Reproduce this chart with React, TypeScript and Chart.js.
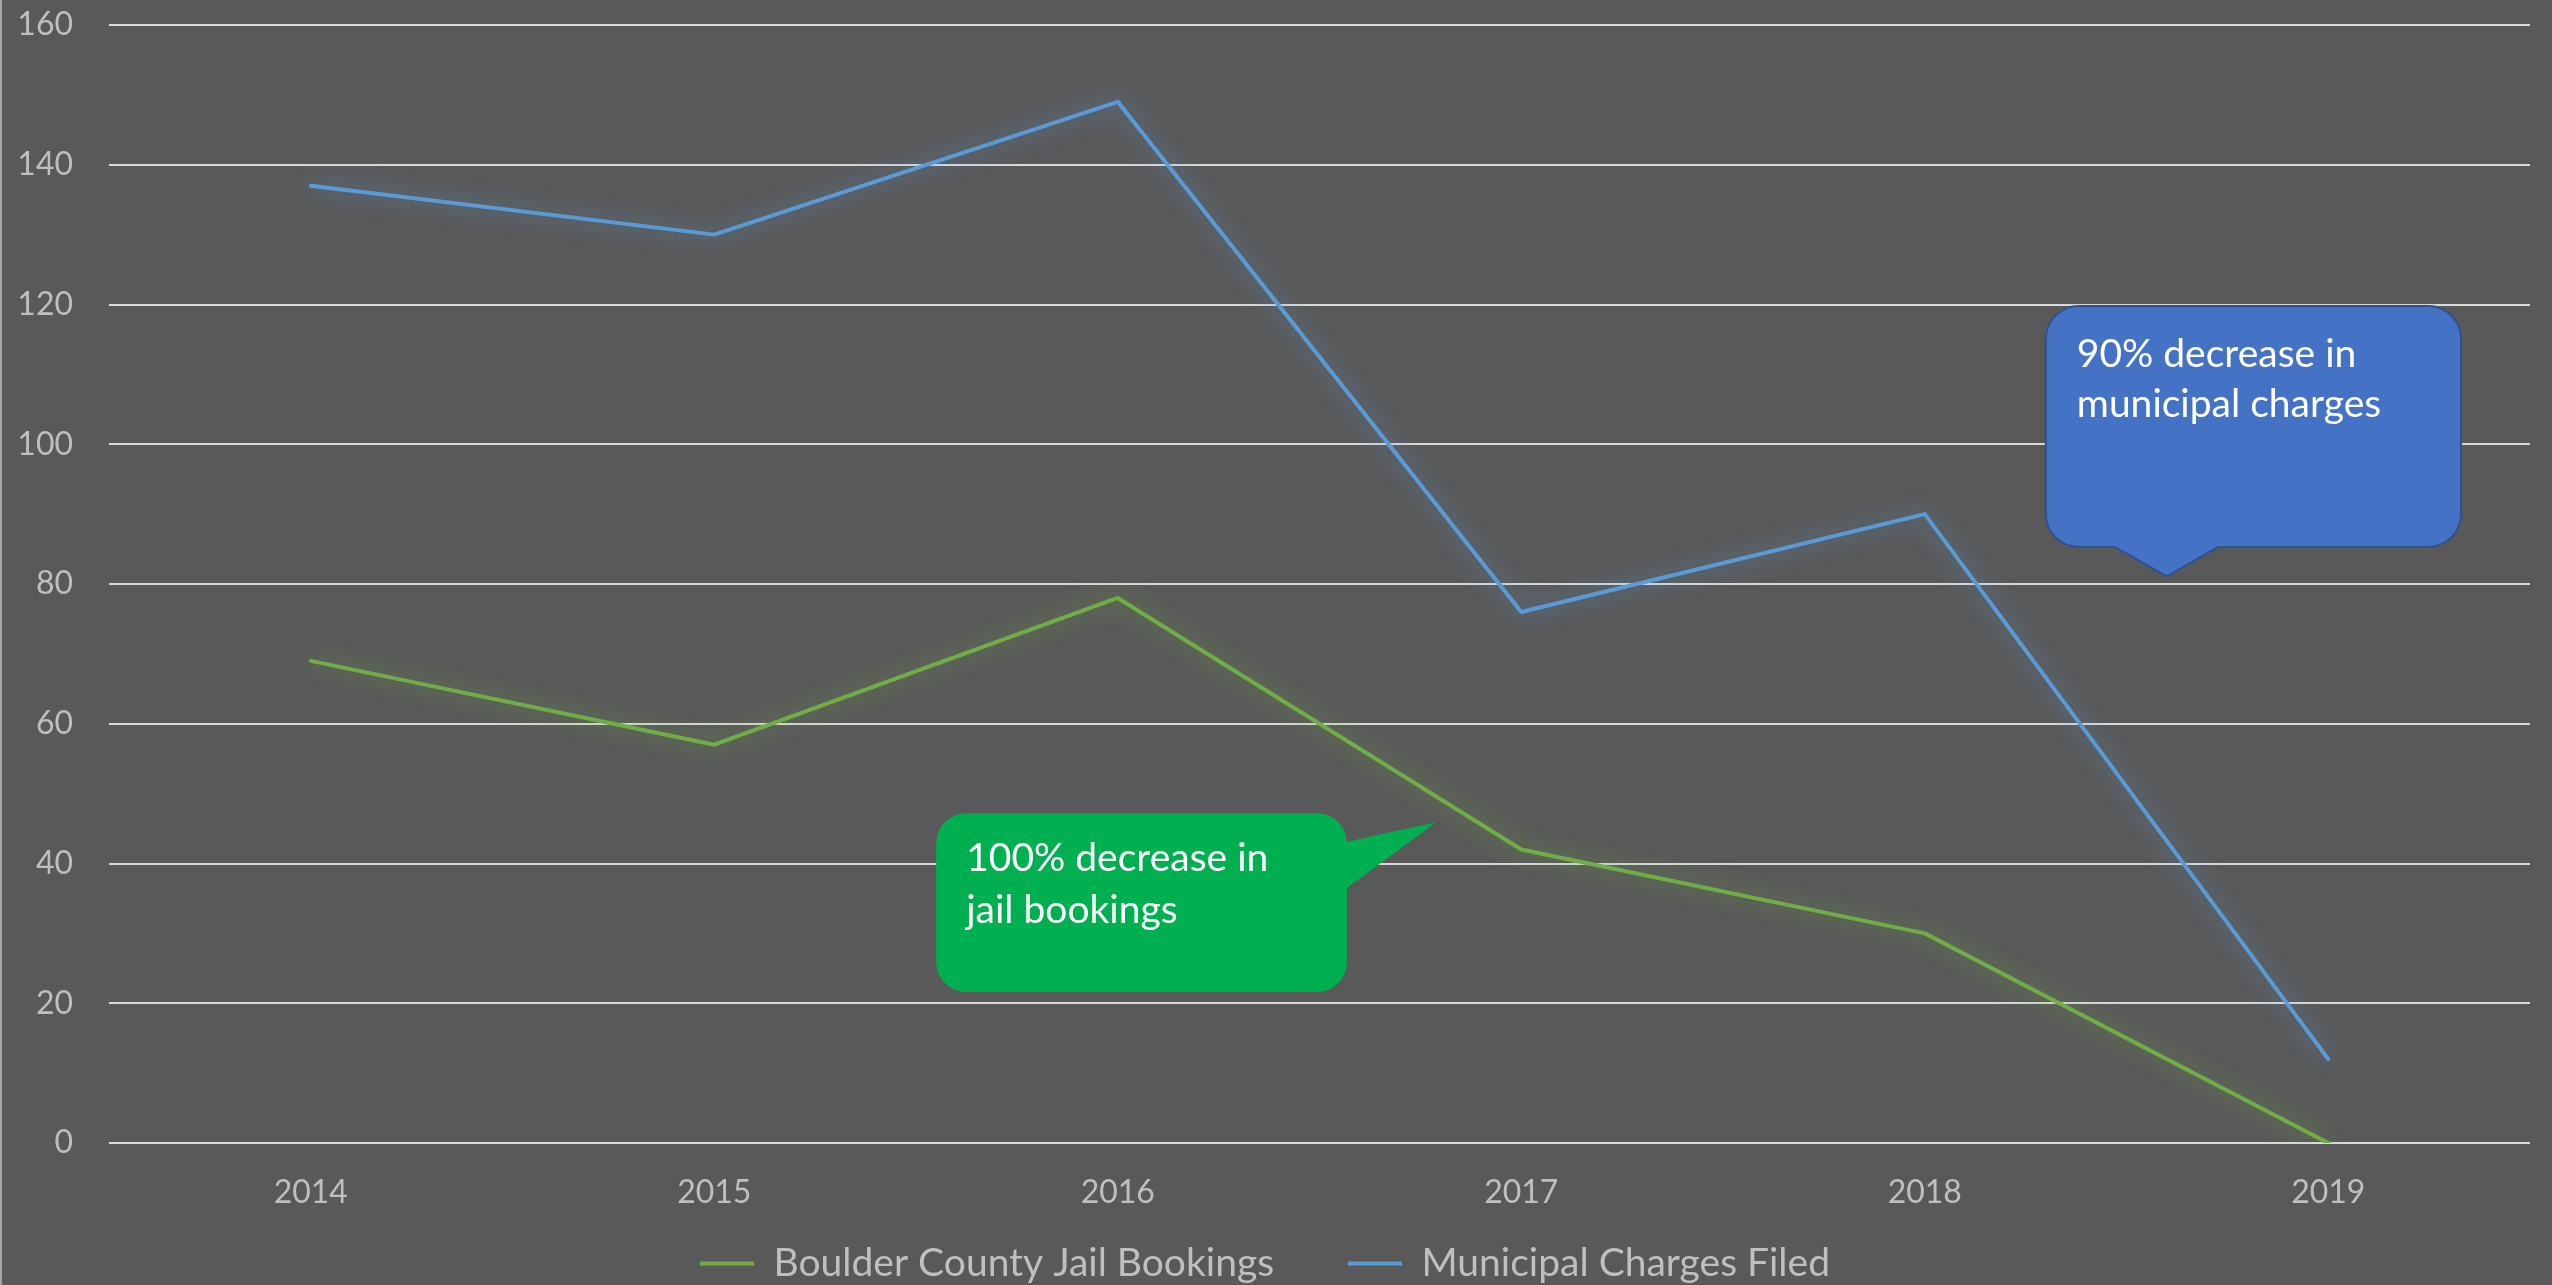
import React, { useEffect, useRef } from "react";
import { Chart, registerables } from "chart.js";

Chart.register(...registerables);

// ---- Data ----
const years = ["2014", "2015", "2016", "2017", "2018", "2019"];
const jailBookings = [69, 57, 78, 42, 30, 0];
const municipalCharges = [137, 130, 149, 76, 90, 12];
const seriesNames = ["Boulder County Jail Bookings", "Municipal Charges Filed"];
const seriesColors = ["#70ad47", "#5b9bd5"];
const glowColors = ["rgba(112,173,71,0.95)", "rgba(91,155,213,0.95)"];
const yMin = 0;
const yMax = 160;
const yStep = 20;

// Callout texts
const greenCalloutText = ["100% decrease in", "jail bookings"];
const blueCalloutText = ["90% decrease in", "municipal charges"];

const FONT = "Lato, 'Open Sans', sans-serif";
const BG = "#595959";

const W = 2552;
const H = 1285;
const TOP_PAD = 25;
const RIGHT_PAD = 22;
const BOTTOM_PAD = -8;
const LEGEND_FONT = 39;
const LEGEND_PAD = 24;
const LEGEND_H = LEGEND_FONT + LEGEND_PAD + 10;
const PLOT_H = 1118;
const X_AXIS_H = H - BOTTOM_PAD - TOP_PAD - PLOT_H - LEGEND_H;

function roundedCallout(
  ctx: CanvasRenderingContext2D,
  l: number,
  t: number,
  r: number,
  b: number,
  rad: number,
  tail: { side: "right" | "bottom"; a: number; b: number; tx: number; ty: number }
) {
  ctx.beginPath();
  ctx.moveTo(l + rad, t);
  ctx.lineTo(r - rad, t);
  ctx.arcTo(r, t, r, t + rad, rad);
  if (tail.side === "right") {
    ctx.lineTo(r, tail.a);
    ctx.lineTo(tail.tx, tail.ty);
    ctx.lineTo(r, tail.b);
  }
  ctx.lineTo(r, b - rad);
  ctx.arcTo(r, b, r - rad, b, rad);
  if (tail.side === "bottom") {
    ctx.lineTo(tail.b, b);
    ctx.lineTo(tail.tx, tail.ty);
    ctx.lineTo(tail.a, b);
  }
  ctx.lineTo(l + rad, b);
  ctx.arcTo(l, b, l, b - rad, rad);
  ctx.lineTo(l, t + rad);
  ctx.arcTo(l, t, l + rad, t, rad);
  ctx.closePath();
}

const bgPlugin = {
  id: "bgPlugin",
  beforeDraw(chart: any) {
    const { ctx, width, height } = chart;
    ctx.save();
    ctx.fillStyle = BG;
    ctx.fillRect(0, 0, width, height);
    ctx.fillStyle = "#a6a6a6";
    ctx.fillRect(0, 0, 2, height);
    ctx.restore();
  },
};

const glowPlugin = {
  id: "glowPlugin",
  beforeDatasetDraw(chart: any, args: any) {
    const ctx = chart.ctx;
    ctx.save();
    ctx.shadowColor = glowColors[args.index];
    ctx.shadowBlur = 26;
    ctx.shadowOffsetX = 0;
    ctx.shadowOffsetY = 0;
  },
  afterDatasetDraw(chart: any) {
    chart.ctx.restore();
  },
};

const calloutPlugin = {
  id: "calloutPlugin",
  afterDatasetsDraw(chart: any) {
    const { ctx } = chart;
    const xs = chart.scales.x;
    const ys = chart.scales.y;
    const px = (v: number) => xs.getPixelForValue(v);
    const py = (v: number) => ys.getPixelForValue(v);
    ctx.save();
    ctx.font = `39px ${FONT}`;
    ctx.textBaseline = "middle";
    ctx.textAlign = "left";

    // Green callout (tail pointing right toward the green line)
    {
      const l = px(1.55), r = px(2.568), t = py(47.2), b = py(21.6);
      roundedCallout(ctx, l, t, r, b, 30, {
        side: "right",
        a: py(43.1),
        b: py(36.5),
        tx: px(2.789),
        ty: py(45.9),
      });
      ctx.fillStyle = "#00b050";
      ctx.fill();
      ctx.fillStyle = "#ffffff";
      greenCalloutText.forEach((s, i) => ctx.fillText(s, l + 30, t + 45 + i * 52));
    }
    // Blue callout (tail pointing down)
    {
      const l = px(4.3), r = px(5.329), t = py(119.8), b = py(85.3);
      roundedCallout(ctx, l, t, r, b, 33, {
        side: "bottom",
        a: px(4.471),
        b: px(4.727),
        tx: px(4.6),
        ty: py(81.1),
      });
      ctx.fillStyle = "#4472c4";
      ctx.fill();
      ctx.strokeStyle = "#2f528f";
      ctx.lineWidth = 2;
      ctx.stroke();
      ctx.fillStyle = "#ffffff";
      blueCalloutText.forEach((s, i) => ctx.fillText(s, l + 31, t + 49 + i * 50));
    }
    ctx.restore();
  },
};

export default function App() {
  const ref = useRef<HTMLCanvasElement | null>(null);

  useEffect(() => {
    document.body.style.margin = "0";
    if (!ref.current) return;
    const chart = new Chart(ref.current, {
      type: "line",
      data: {
        labels: years,
        datasets: [
          {
            label: seriesNames[0],
            data: jailBookings,
            borderColor: seriesColors[0],
            backgroundColor: seriesColors[0],
            borderWidth: 4,
            pointRadius: 0,
            tension: 0,
            borderCapStyle: "round",
            borderJoinStyle: "round",
          },
          {
            label: seriesNames[1],
            data: municipalCharges,
            borderColor: seriesColors[1],
            backgroundColor: seriesColors[1],
            borderWidth: 4,
            pointRadius: 0,
            tension: 0,
            borderCapStyle: "round",
            borderJoinStyle: "round",
          },
        ],
      },
      options: {
        responsive: false,
        animation: false,
        layout: { padding: { top: TOP_PAD, right: RIGHT_PAD, left: 0, bottom: BOTTOM_PAD } },
        plugins: {
          tooltip: { enabled: false },
          legend: {
            position: "bottom",
            align: "center",
            labels: {
              color: "#bfbfbf",
              font: { family: FONT, size: LEGEND_FONT },
              boxWidth: 54,
              boxHeight: 4,
              padding: LEGEND_PAD,
              generateLabels: (c: any) =>
                Chart.defaults.plugins.legend.labels
                  .generateLabels(c)
                  .map((it: any, i: number) => ({
                    ...it,
                    lineWidth: 0,
                    text: i === 0 ? it.text + "     " : it.text,
                  })),
            },
          },
        },
        scales: {
          x: {
            type: "category",
            offset: true,
            grid: { display: false, drawTicks: false },
            border: { display: false },
            ticks: {
              color: "#bfbfbf",
              font: { family: FONT, size: 32 },
              padding: 30,
              maxRotation: 0,
              autoSkip: false,
            },
            afterFit: (s: any) => {
              s.height = X_AXIS_H;
              s.paddingLeft = 0;
              s.paddingRight = 0;
            },
          },
          y: {
            min: yMin,
            max: yMax,
            grid: { color: "#d9d9d9", lineWidth: 2, drawTicks: false },
            border: { display: false },
            ticks: {
              stepSize: yStep,
              color: "#bfbfbf",
              font: { family: FONT, size: 32 },
              padding: 36,
            },
            afterFit: (s: any) => {
              s.width = 109;
              s.paddingTop = 0;
              s.paddingBottom = 0;
            },
          },
        },
      },
      plugins: [bgPlugin, glowPlugin, calloutPlugin],
    } as any);
    return () => chart.destroy();
  }, []);

  return (
    <div style={{ width: W, height: H }}>
      <canvas ref={ref} width={W} height={H} style={{ width: W, height: H, display: "block" }} />
    </div>
  );
}
